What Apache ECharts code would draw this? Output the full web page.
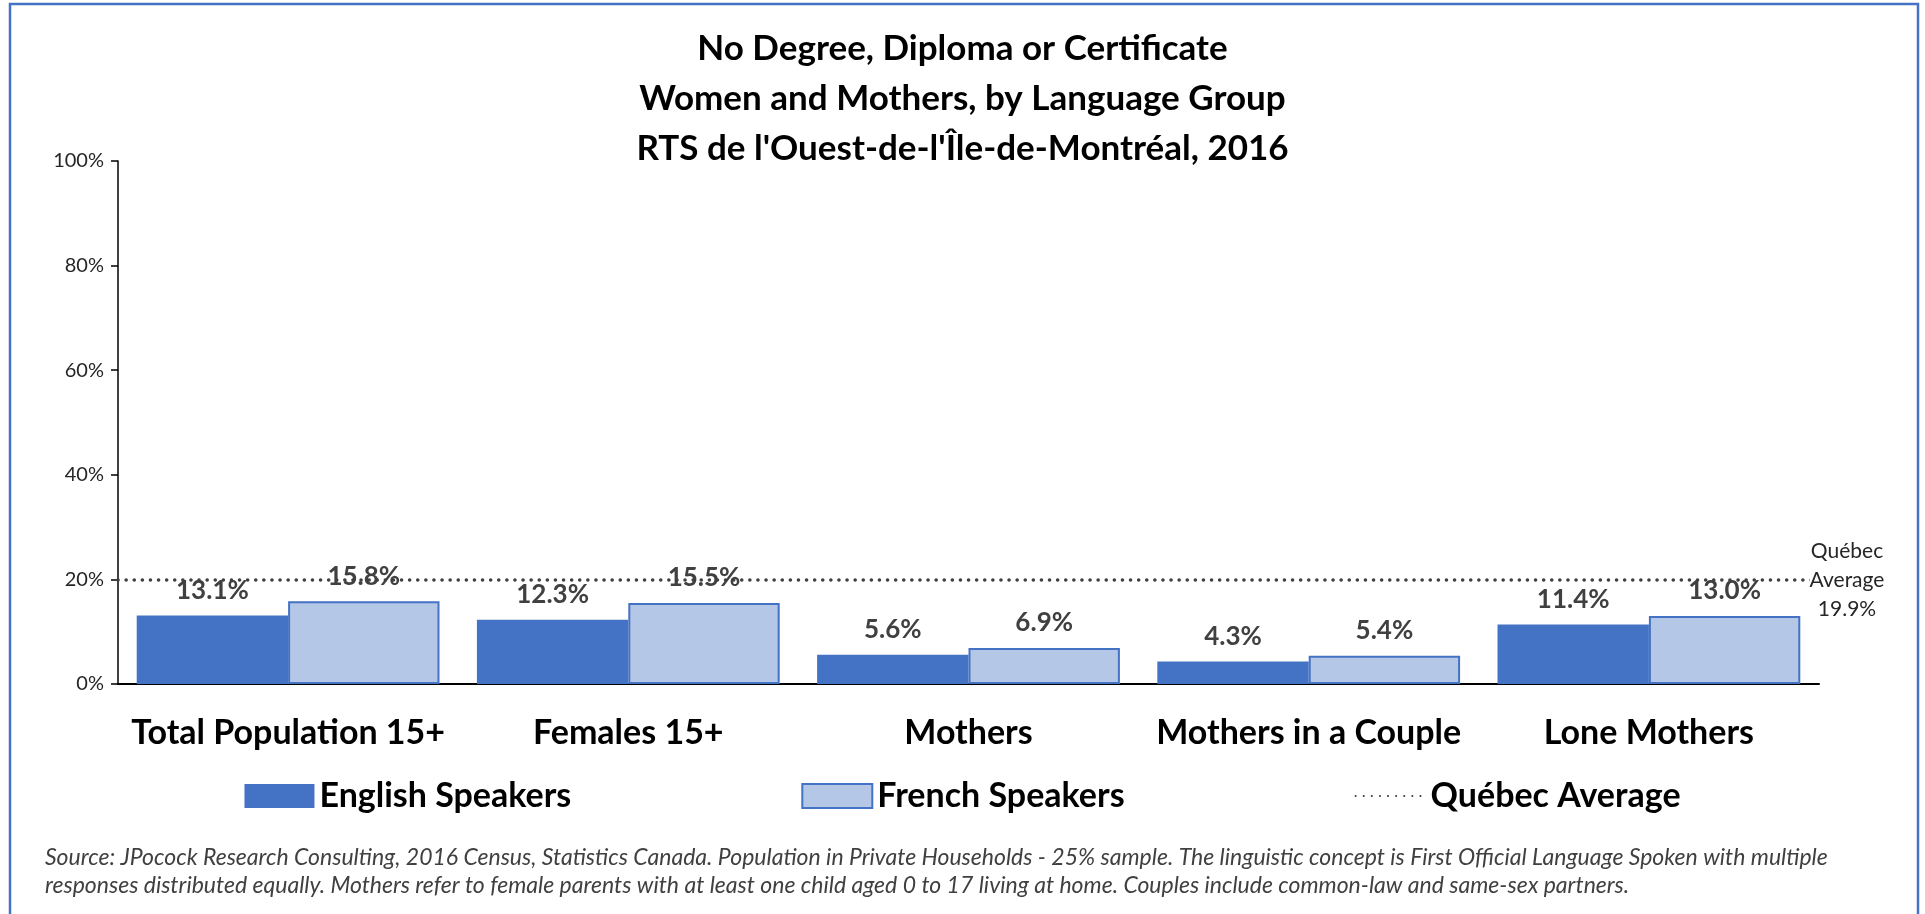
<!DOCTYPE html>
<html>
<head>
<meta charset="utf-8">
<title>No Degree, Diploma or Certificate</title>
<script src="https://cdn.jsdelivr.net/npm/echarts@6/dist/echarts.min.js"></script>
<style>
  html, body { margin: 0; padding: 0; background: #ffffff; }
  #chart { width: 1925px; height: 914px; }
</style>
</head>
<body>
<div id="chart"></div>
<script>
// data
var categories = ['Total Population 15+', 'Females 15+', 'Mothers', 'Mothers in a Couple', 'Lone Mothers'];
var englishSpeakers = [13.1, 12.3, 5.6, 4.3, 11.4];
var frenchSpeakers = [15.8, 15.5, 6.9, 5.4, 13.0];
var quebecAverage = 19.9;
var yTicks = [0, 20, 40, 60, 80, 100];

var sourceNote = 'Source: JPocock Research Consulting, 2016 Census, Statistics Canada. Population in Private Households - 25% sample. The linguistic concept is First Official Language Spoken with multiple\n' +
    'responses distributed equally. Mothers refer to female parents with at least one child aged 0 to 17 living at home. Couples include common-law and same-sex partners.';

var font = 'Lato, "Open Sans", sans-serif';

var dom = document.getElementById('chart');
var myChart = echarts.init(dom, null, { renderer: 'canvas' });

var barLabel = {
    show: true,
    position: 'top',
    distance: 12,
    formatter: function (p) { return p.value.toFixed(1) + '%'; },
    color: '#404040',
    fontFamily: font,
    fontWeight: 'bold',
    fontSize: 26
};

var dotLine = { color: '#404040', width: 3.5, type: [0.1, 8], cap: 'round' };

var option = {
    backgroundColor: '#ffffff',
    animation: false,
    textStyle: { fontFamily: font },
    title: [
        {
            text: "No Degree, Diploma or Certificate\nWomen and Mothers, by Language Group\nRTS de l'Ouest-de-l'Île-de-Montréal, 2016",
            left: 'center',
            top: 24,
            padding: 0,
            textStyle: {
                fontFamily: font,
                fontWeight: 'bold',
                fontSize: 35,
                lineHeight: 50,
                color: '#000000'
            }
        },
        {
            text: sourceNote,
            left: 45,
            top: 844,
            padding: 0,
            textStyle: {
                fontFamily: font,
                fontStyle: 'italic',
                fontWeight: 'normal',
                fontSize: 23,
                lineHeight: 28,
                color: '#404040'
            }
        }
    ],
    graphic: [
        {
            type: 'rect',
            silent: true,
            shape: { x: 10, y: 4, width: 1908, height: 930 },
            style: { fill: 'none', stroke: '#4472C4', lineWidth: 2.5 }
        }
    ],
    legend: {
        top: 774,
        left: 'center',
        itemWidth: 70,
        itemHeight: 24,
        itemGap: 230,
        textStyle: {
            fontFamily: font,
            fontWeight: 'bold',
            fontSize: 34,
            color: '#000000'
        },
        data: [
            { name: 'English Speakers', icon: 'rect' },
            { name: 'French Speakers', icon: 'rect' },
            { name: 'Québec Average', itemStyle: { opacity: 0 } }
        ]
    },
    grid: {
        left: 118,
        right: 106,
        top: 161,
        bottom: 230,
        containLabel: false
    },
    xAxis: {
        type: 'category',
        data: categories,
        axisTick: { show: false },
        axisLine: { lineStyle: { color: '#000000', width: 2 } },
        axisLabel: {
            interval: 0,
            margin: 32,
            color: '#000000',
            fontFamily: font,
            fontWeight: 'bold',
            fontSize: 34
        }
    },
    yAxis: {
        type: 'value',
        min: yTicks[0],
        max: yTicks[yTicks.length - 1],
        interval: 20,
        splitLine: { show: false },
        axisLine: { show: true, lineStyle: { color: '#000000', width: 1.5 } },
        axisTick: { show: true, length: 7, lineStyle: { color: '#000000', width: 1.5 } },
        axisLabel: {
            margin: 14,
            color: '#262626',
            fontFamily: font,
            fontSize: 20,
            formatter: '{value}%'
        }
    },
    series: [
        {
            name: 'English Speakers',
            type: 'bar',
            barGap: '0%',
            barCategoryGap: '11%',
            data: englishSpeakers,
            itemStyle: { color: '#4472C4' },
            label: barLabel
        },
        {
            name: 'French Speakers',
            type: 'bar',
            data: frenchSpeakers,
            itemStyle: { color: '#B4C7E7', borderColor: '#4472C4', borderWidth: 2 },
            label: barLabel
        },
        {
            name: 'Québec Average',
            type: 'line',
            data: [],
            symbol: 'none',
            itemStyle: { color: '#404040' },
            lineStyle: dotLine,
            markLine: {
                silent: true,
                symbol: ['none', 'none'],
                lineStyle: dotLine,
                label: {
                    show: true,
                    position: 'end',
                    distance: 28,
                    align: 'center',
                    color: '#262626',
                    backgroundColor: '#ffffff',
                    fontFamily: font,
                    fontSize: 21,
                    lineHeight: 29,
                    formatter: function () {
                        return 'Québec\nAverage\n' + quebecAverage.toFixed(1) + '%';
                    }
                },
                data: [{ yAxis: quebecAverage }]
            }
        }
    ]
};

myChart.setOption(option);
window.addEventListener('resize', myChart.resize);
</script>
</body>
</html>
